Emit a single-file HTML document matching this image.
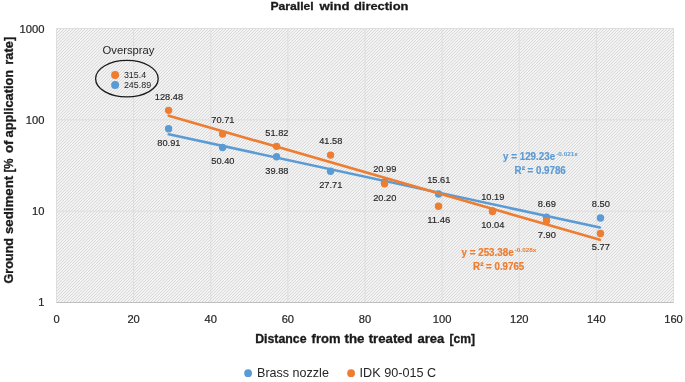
<!DOCTYPE html>
<html><head><meta charset="utf-8"><title>Parallel wind direction</title>
<style>html,body{margin:0;padding:0;background:#fff;}body{width:685px;height:382px;overflow:hidden;}svg{display:block;position:absolute;left:0;top:0;will-change:transform;}text{font-family:"Liberation Sans",sans-serif;}</style>
</head><body>
<svg width="685" height="382" viewBox="0 0 685 382">
<defs><pattern id="h" width="3" height="3" patternUnits="userSpaceOnUse"><rect width="3" height="3" fill="#f3f3f3"/><path d="M-1 1 L1 -1 M-1 4 L4 -1 M2 4 L4 2" stroke="#d9d9d9" stroke-width="1.0"/></pattern></defs>
<rect width="685" height="382" fill="#fff"/>
<rect x="56.5" y="28.5" width="617.0" height="274.0" fill="url(#h)"/>
<line x1="56.50" y1="28.5" x2="56.50" y2="302.5" stroke="#dedede" stroke-width="1"/>
<line x1="133.62" y1="28.5" x2="133.62" y2="302.5" stroke="#dedede" stroke-width="1"/>
<line x1="210.75" y1="28.5" x2="210.75" y2="302.5" stroke="#dedede" stroke-width="1"/>
<line x1="287.88" y1="28.5" x2="287.88" y2="302.5" stroke="#dedede" stroke-width="1"/>
<line x1="365.00" y1="28.5" x2="365.00" y2="302.5" stroke="#dedede" stroke-width="1"/>
<line x1="442.12" y1="28.5" x2="442.12" y2="302.5" stroke="#dedede" stroke-width="1"/>
<line x1="519.25" y1="28.5" x2="519.25" y2="302.5" stroke="#dedede" stroke-width="1"/>
<line x1="596.38" y1="28.5" x2="596.38" y2="302.5" stroke="#dedede" stroke-width="1"/>
<line x1="673.50" y1="28.5" x2="673.50" y2="302.5" stroke="#dedede" stroke-width="1"/>
<line x1="56.5" y1="28.50" x2="673.5" y2="28.50" stroke="#dedede" stroke-width="1"/>
<line x1="56.5" y1="119.83" x2="673.5" y2="119.83" stroke="#dedede" stroke-width="1"/>
<line x1="56.5" y1="211.17" x2="673.5" y2="211.17" stroke="#dedede" stroke-width="1"/>
<line x1="56.5" y1="302.50" x2="673.5" y2="302.50" stroke="#dedede" stroke-width="1"/>
<line x1="56.5" y1="302.5" x2="673.5" y2="302.5" stroke="#bfbfbf" stroke-width="1.2"/>
<text x="270.50" y="10.10" font-size="11.7" text-anchor="start" font-weight="bold" fill="#1a1a1a" textLength="43.20" lengthAdjust="spacingAndGlyphs" stroke="#1a1a1a" stroke-width="0.3">Parallel</text>
<text x="319.50" y="10.10" font-size="11.7" text-anchor="start" font-weight="bold" fill="#1a1a1a" textLength="30.00" lengthAdjust="spacingAndGlyphs" stroke="#1a1a1a" stroke-width="0.3">wind</text>
<text x="354.00" y="10.10" font-size="11.7" text-anchor="start" font-weight="bold" fill="#1a1a1a" textLength="54.40" lengthAdjust="spacingAndGlyphs" stroke="#1a1a1a" stroke-width="0.3">direction</text>
<text x="19.40" y="32.90" font-size="10.3" text-anchor="start" font-weight="normal" fill="#262626" textLength="25.00" lengthAdjust="spacingAndGlyphs" stroke="#262626" stroke-width="0.2">1000</text>
<text x="25.80" y="124.28" font-size="10.3" text-anchor="start" font-weight="normal" fill="#262626" textLength="18.60" lengthAdjust="spacingAndGlyphs" stroke="#262626" stroke-width="0.2">100</text>
<text x="32.00" y="214.72" font-size="10.3" text-anchor="start" font-weight="normal" fill="#262626" textLength="12.40" lengthAdjust="spacingAndGlyphs" stroke="#262626" stroke-width="0.2">10</text>
<text x="38.20" y="306.00" font-size="10.3" text-anchor="start" font-weight="normal" fill="#262626" textLength="6.20" lengthAdjust="spacingAndGlyphs" stroke="#262626" stroke-width="0.2">1</text>
<text x="53.40" y="322.70" font-size="10.3" text-anchor="start" font-weight="normal" fill="#262626" textLength="6.20" lengthAdjust="spacingAndGlyphs" stroke="#262626" stroke-width="0.2">0</text>
<text x="127.42" y="322.70" font-size="10.3" text-anchor="start" font-weight="normal" fill="#262626" textLength="12.40" lengthAdjust="spacingAndGlyphs" stroke="#262626" stroke-width="0.2">20</text>
<text x="204.55" y="322.70" font-size="10.3" text-anchor="start" font-weight="normal" fill="#262626" textLength="12.40" lengthAdjust="spacingAndGlyphs" stroke="#262626" stroke-width="0.2">40</text>
<text x="281.68" y="322.70" font-size="10.3" text-anchor="start" font-weight="normal" fill="#262626" textLength="12.40" lengthAdjust="spacingAndGlyphs" stroke="#262626" stroke-width="0.2">60</text>
<text x="358.80" y="322.70" font-size="10.3" text-anchor="start" font-weight="normal" fill="#262626" textLength="12.40" lengthAdjust="spacingAndGlyphs" stroke="#262626" stroke-width="0.2">80</text>
<text x="432.82" y="322.70" font-size="10.3" text-anchor="start" font-weight="normal" fill="#262626" textLength="18.60" lengthAdjust="spacingAndGlyphs" stroke="#262626" stroke-width="0.2">100</text>
<text x="509.95" y="322.70" font-size="10.3" text-anchor="start" font-weight="normal" fill="#262626" textLength="18.60" lengthAdjust="spacingAndGlyphs" stroke="#262626" stroke-width="0.2">120</text>
<text x="587.08" y="322.70" font-size="10.3" text-anchor="start" font-weight="normal" fill="#262626" textLength="18.60" lengthAdjust="spacingAndGlyphs" stroke="#262626" stroke-width="0.2">140</text>
<text x="664.20" y="322.70" font-size="10.3" text-anchor="start" font-weight="normal" fill="#262626" textLength="18.60" lengthAdjust="spacingAndGlyphs" stroke="#262626" stroke-width="0.2">160</text>
<text x="255.20" y="343.40" font-size="12.2" text-anchor="start" font-weight="bold" fill="#1a1a1a" textLength="51.40" lengthAdjust="spacingAndGlyphs" stroke="#1a1a1a" stroke-width="0.3">Distance</text>
<text x="311.60" y="343.40" font-size="12.2" text-anchor="start" font-weight="bold" fill="#1a1a1a" textLength="28.90" lengthAdjust="spacingAndGlyphs" stroke="#1a1a1a" stroke-width="0.3">from</text>
<text x="344.50" y="343.40" font-size="12.2" text-anchor="start" font-weight="bold" fill="#1a1a1a" textLength="20.00" lengthAdjust="spacingAndGlyphs" stroke="#1a1a1a" stroke-width="0.3">the</text>
<text x="368.70" y="343.40" font-size="12.2" text-anchor="start" font-weight="bold" fill="#1a1a1a" textLength="44.00" lengthAdjust="spacingAndGlyphs" stroke="#1a1a1a" stroke-width="0.3">treated</text>
<text x="417.40" y="343.40" font-size="12.2" text-anchor="start" font-weight="bold" fill="#1a1a1a" textLength="26.80" lengthAdjust="spacingAndGlyphs" stroke="#1a1a1a" stroke-width="0.3">area</text>
<text x="449.40" y="343.40" font-size="12.2" text-anchor="start" font-weight="bold" fill="#1a1a1a" textLength="25.60" lengthAdjust="spacingAndGlyphs" stroke="#1a1a1a" stroke-width="0.3">[cm]</text>
<g transform="translate(12.6 283.5) rotate(-90)">
<text x="0.00" y="0.00" font-size="12.2" text-anchor="start" font-weight="bold" fill="#1a1a1a" textLength="45.60" lengthAdjust="spacingAndGlyphs" stroke="#1a1a1a" stroke-width="0.3">Ground</text>
<text x="49.40" y="0.00" font-size="12.2" text-anchor="start" font-weight="bold" fill="#1a1a1a" textLength="58.30" lengthAdjust="spacingAndGlyphs" stroke="#1a1a1a" stroke-width="0.3">sediment</text>
<text x="110.90" y="0.00" font-size="12.2" text-anchor="start" font-weight="bold" fill="#1a1a1a" textLength="14.10" lengthAdjust="spacingAndGlyphs" stroke="#1a1a1a" stroke-width="0.3">[%</text>
<text x="130.60" y="0.00" font-size="12.2" text-anchor="start" font-weight="bold" fill="#1a1a1a" textLength="12.40" lengthAdjust="spacingAndGlyphs" stroke="#1a1a1a" stroke-width="0.3">of</text>
<text x="146.00" y="0.00" font-size="12.2" text-anchor="start" font-weight="bold" fill="#1a1a1a" textLength="67.70" lengthAdjust="spacingAndGlyphs" stroke="#1a1a1a" stroke-width="0.3">application</text>
<text x="218.80" y="0.00" font-size="12.2" text-anchor="start" font-weight="bold" fill="#1a1a1a" textLength="27.90" lengthAdjust="spacingAndGlyphs" stroke="#1a1a1a" stroke-width="0.3">rate]</text>
</g>
<circle cx="168.58" cy="128.69" r="3.7" fill="#5B9BD5"/>
<circle cx="222.57" cy="147.46" r="3.7" fill="#5B9BD5"/>
<circle cx="276.56" cy="156.75" r="3.7" fill="#5B9BD5"/>
<circle cx="330.54" cy="171.19" r="3.7" fill="#5B9BD5"/>
<circle cx="384.53" cy="182.21" r="3.7" fill="#5B9BD5"/>
<circle cx="438.52" cy="193.95" r="3.7" fill="#5B9BD5"/>
<circle cx="492.51" cy="210.87" r="3.7" fill="#5B9BD5"/>
<circle cx="546.49" cy="217.19" r="3.7" fill="#5B9BD5"/>
<circle cx="600.48" cy="218.06" r="3.7" fill="#5B9BD5"/>
<line x1="168.77" y1="134.31" x2="599.90" y2="227.44" stroke="#5B9BD5" stroke-width="2.6" stroke-linecap="round"/>
<circle cx="168.58" cy="110.34" r="3.7" fill="#ED7D31"/>
<circle cx="222.57" cy="134.03" r="3.7" fill="#ED7D31"/>
<circle cx="276.56" cy="146.36" r="3.7" fill="#ED7D31"/>
<circle cx="330.54" cy="155.09" r="3.7" fill="#ED7D31"/>
<circle cx="384.53" cy="183.73" r="3.7" fill="#ED7D31"/>
<circle cx="438.52" cy="206.21" r="3.7" fill="#ED7D31"/>
<circle cx="492.51" cy="211.46" r="3.7" fill="#ED7D31"/>
<circle cx="546.49" cy="220.97" r="3.7" fill="#ED7D31"/>
<circle cx="600.48" cy="233.43" r="3.7" fill="#ED7D31"/>
<line x1="168.77" y1="115.67" x2="599.90" y2="239.84" stroke="#ED7D31" stroke-width="2.6" stroke-linecap="round"/>
<text x="154.75" y="99.60" font-size="9.1" text-anchor="start" font-weight="normal" fill="#262626" textLength="28.30" lengthAdjust="spacingAndGlyphs" stroke="#262626" stroke-width="0.15">128.48</text>
<text x="211.30" y="123.30" font-size="9.1" text-anchor="start" font-weight="normal" fill="#262626" textLength="23.20" lengthAdjust="spacingAndGlyphs" stroke="#262626" stroke-width="0.15">70.71</text>
<text x="265.30" y="135.70" font-size="9.1" text-anchor="start" font-weight="normal" fill="#262626" textLength="23.20" lengthAdjust="spacingAndGlyphs" stroke="#262626" stroke-width="0.15">51.82</text>
<text x="319.20" y="144.40" font-size="9.1" text-anchor="start" font-weight="normal" fill="#262626" textLength="23.20" lengthAdjust="spacingAndGlyphs" stroke="#262626" stroke-width="0.15">41.58</text>
<text x="373.20" y="200.50" font-size="9.1" text-anchor="start" font-weight="normal" fill="#262626" textLength="23.20" lengthAdjust="spacingAndGlyphs" stroke="#262626" stroke-width="0.15">20.20</text>
<text x="427.20" y="223.00" font-size="9.1" text-anchor="start" font-weight="normal" fill="#262626" textLength="23.20" lengthAdjust="spacingAndGlyphs" stroke="#262626" stroke-width="0.15">11.46</text>
<text x="481.20" y="228.30" font-size="9.1" text-anchor="start" font-weight="normal" fill="#262626" textLength="23.20" lengthAdjust="spacingAndGlyphs" stroke="#262626" stroke-width="0.15">10.04</text>
<text x="537.70" y="237.80" font-size="9.1" text-anchor="start" font-weight="normal" fill="#262626" textLength="18.20" lengthAdjust="spacingAndGlyphs" stroke="#262626" stroke-width="0.15">7.90</text>
<text x="591.70" y="250.20" font-size="9.1" text-anchor="start" font-weight="normal" fill="#262626" textLength="18.20" lengthAdjust="spacingAndGlyphs" stroke="#262626" stroke-width="0.15">5.77</text>
<text x="157.30" y="145.50" font-size="9.1" text-anchor="start" font-weight="normal" fill="#262626" textLength="23.20" lengthAdjust="spacingAndGlyphs" stroke="#262626" stroke-width="0.15">80.91</text>
<text x="211.30" y="164.30" font-size="9.1" text-anchor="start" font-weight="normal" fill="#262626" textLength="23.20" lengthAdjust="spacingAndGlyphs" stroke="#262626" stroke-width="0.15">50.40</text>
<text x="265.30" y="173.50" font-size="9.1" text-anchor="start" font-weight="normal" fill="#262626" textLength="23.20" lengthAdjust="spacingAndGlyphs" stroke="#262626" stroke-width="0.15">39.88</text>
<text x="319.20" y="188.00" font-size="9.1" text-anchor="start" font-weight="normal" fill="#262626" textLength="23.20" lengthAdjust="spacingAndGlyphs" stroke="#262626" stroke-width="0.15">27.71</text>
<text x="373.20" y="171.50" font-size="9.1" text-anchor="start" font-weight="normal" fill="#262626" textLength="23.20" lengthAdjust="spacingAndGlyphs" stroke="#262626" stroke-width="0.15">20.99</text>
<text x="427.20" y="183.30" font-size="9.1" text-anchor="start" font-weight="normal" fill="#262626" textLength="23.20" lengthAdjust="spacingAndGlyphs" stroke="#262626" stroke-width="0.15">15.61</text>
<text x="481.20" y="200.20" font-size="9.1" text-anchor="start" font-weight="normal" fill="#262626" textLength="23.20" lengthAdjust="spacingAndGlyphs" stroke="#262626" stroke-width="0.15">10.19</text>
<text x="537.70" y="206.50" font-size="9.1" text-anchor="start" font-weight="normal" fill="#262626" textLength="18.20" lengthAdjust="spacingAndGlyphs" stroke="#262626" stroke-width="0.15">8.69</text>
<text x="591.70" y="207.40" font-size="9.1" text-anchor="start" font-weight="normal" fill="#262626" textLength="18.20" lengthAdjust="spacingAndGlyphs" stroke="#262626" stroke-width="0.15">8.50</text>
<text x="102.50" y="54.00" font-size="10.8" text-anchor="start" font-weight="normal" fill="#262626" textLength="52.00" lengthAdjust="spacingAndGlyphs">Overspray</text>
<ellipse cx="126.9" cy="78.65" rx="31.3" ry="18.3" fill="none" stroke="#1a1a1a" stroke-width="1.3"/>
<circle cx="115.1" cy="75.1" r="4.0" fill="#ED7D31"/>
<circle cx="115.1" cy="84.9" r="4.0" fill="#5B9BD5"/>
<text x="123.90" y="78.10" font-size="8.8" text-anchor="start" font-weight="normal" fill="#262626" textLength="22.20" lengthAdjust="spacingAndGlyphs">315.4</text>
<text x="123.90" y="87.90" font-size="8.8" text-anchor="start" font-weight="normal" fill="#262626" textLength="27.30" lengthAdjust="spacingAndGlyphs">245.89</text>
<text x="503.1" y="159.8" font-size="10.5" font-weight="bold" fill="#5B9BD5" stroke="#5B9BD5" stroke-width="0.2" textLength="52" lengthAdjust="spacingAndGlyphs">y = 129.23e</text>
<text x="556.2" y="155.8" font-size="6.1" font-weight="bold" fill="#5B9BD5" textLength="21.7" lengthAdjust="spacingAndGlyphs">-0.021x</text>
<text x="514.6" y="173.60000000000002" font-size="10.5" font-weight="bold" fill="#5B9BD5" stroke="#5B9BD5" stroke-width="0.2" textLength="51.2" lengthAdjust="spacingAndGlyphs">R² = 0.9786</text>
<text x="461.6" y="255.9" font-size="10.5" font-weight="bold" fill="#ED7D31" stroke="#ED7D31" stroke-width="0.2" textLength="52" lengthAdjust="spacingAndGlyphs">y = 253.38e</text>
<text x="514.7" y="251.9" font-size="6.1" font-weight="bold" fill="#ED7D31" textLength="21.7" lengthAdjust="spacingAndGlyphs">-0.028x</text>
<text x="473.1" y="269.7" font-size="10.5" font-weight="bold" fill="#ED7D31" stroke="#ED7D31" stroke-width="0.2" textLength="51.2" lengthAdjust="spacingAndGlyphs">R² = 0.9765</text>
<circle cx="248.1" cy="373.2" r="3.9" fill="#5B9BD5"/>
<text x="257.00" y="376.80" font-size="12.9" text-anchor="start" font-weight="normal" fill="#262626" textLength="71.90" lengthAdjust="spacingAndGlyphs">Brass nozzle</text>
<circle cx="351.1" cy="373.2" r="3.9" fill="#ED7D31"/>
<text x="359.60" y="376.80" font-size="12.9" text-anchor="start" font-weight="normal" fill="#262626" textLength="76.60" lengthAdjust="spacingAndGlyphs">IDK 90-015 C</text>
</svg></body></html>
